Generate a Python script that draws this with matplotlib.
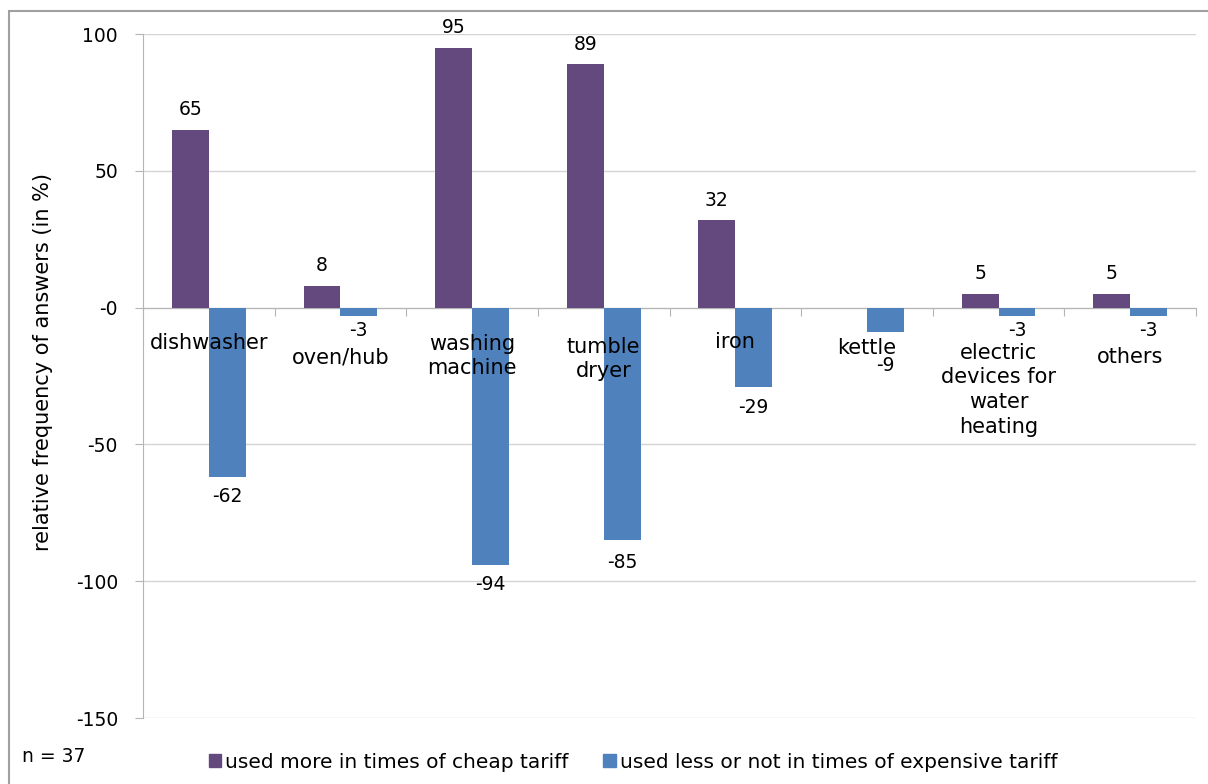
import numpy as np
import matplotlib.pyplot as plt
from matplotlib.patches import Rectangle, Patch

plt.rcParams['font.family'] = ['DejaVu Sans']

categories = ["dishwasher", "oven/hub", "washing\nmachine", "tumble\ndryer", "iron",
              "kettle", "electric\ndevices for\nwater\nheating", "others"]
cheap_more = [65, 8, 95, 89, 32, 0, 5, 5]
expensive_less = [-62, -3, -94, -85, -29, -9, -3, -3]
series_names = ["used more in times of cheap tariff",
                "used less or not in times of expensive tariff"]
yticks = [-150, -100, -50, 0, 50, 100]
ytick_labels = ["-150", "-100", "-50", "-0", "50", "100"]

# how far (px) the top of each category label sits below the zero line
label_drop = [25, 40, 26, 29, 24, 30, 35, 39]
# gap (px) from the end of each negative bar to the centre of its value label
neg_gap = [19, 15, 20, 22, 21, 33, 15, 15]

purple = "#63497E"
blue = "#4F81BD"
grey = "#B5B5B5"

fig = plt.figure(figsize=(12.08, 7.84), dpi=100)
ax = fig.add_axes([143 / 1208, 1 - 718 / 784, (1196 - 143) / 1208, (718 - 34) / 784])

x = np.arange(len(categories))
w = 0.28
ax.bar(x - w / 2, cheap_more, w, color=purple, zorder=3)
ax.bar(x + w / 2, expensive_less, w, color=blue, zorder=3)

for xi, v in zip(x - w / 2, cheap_more):
    if v != 0:
        ax.annotate(str(v), (xi, v), xytext=(0, 20), textcoords="offset pixels",
                    ha="center", va="center", fontsize=13.5)
for xi, v, g in zip(x + w / 2, expensive_less, neg_gap):
    ax.annotate(str(v), (xi, v), xytext=(0, -g), textcoords="offset pixels",
                ha="center", va="center", fontsize=13.5)

for xi, name, d in zip(x, categories, label_drop):
    ax.annotate(name, (xi, 0), xytext=(0, -d), textcoords="offset pixels",
                ha="center", va="top", fontsize=15, linespacing=1.3)

ax.set_xlim(-0.5, len(categories) - 0.5)
ax.set_ylim(-150, 100)
ax.set_yticks(yticks)
ax.set_yticklabels(ytick_labels, fontsize=13.5)
ax.tick_params(axis="y", length=6, color=grey, pad=12)
ax.set_xticks(np.arange(len(categories) + 1) - 0.5)
ax.set_xticklabels([])
ax.tick_params(axis="x", length=6, color=grey, direction="out")
ax.grid(axis="y", color="#D4D4D4", lw=1, zorder=0)

for s in ["top", "right"]:
    ax.spines[s].set_visible(False)
ax.spines["bottom"].set_position(("data", 0))
ax.spines["bottom"].set_color(grey)
ax.spines["left"].set_color(grey)

fig.text(43 / 1208, 1 - 362 / 784, "relative frequency of answers (in %)",
         rotation=90, ha="center", va="center", fontsize=15)
fig.text(22 / 1208, 1 - 757 / 784, "n = 37", ha="left", va="center", fontsize=13.5)

handles = [Patch(color=purple), Patch(color=blue)]
fig.legend(handles, series_names, loc="center", bbox_to_anchor=(633 / 1208, 1 - 762 / 784),
           ncol=2, frameon=False, fontsize=14.5, handlelength=0.62, handleheight=0.62,
           handletextpad=0.2, columnspacing=1.7)

fig.patches.append(Rectangle((9 / 1208, -0.02), 1.0, 1 + 0.02 - 11 / 784,
                             transform=fig.transFigure, fill=False,
                             edgecolor="#A0A0A0", lw=1.5))

fig.savefig("out.png", dpi=100, facecolor="white")
